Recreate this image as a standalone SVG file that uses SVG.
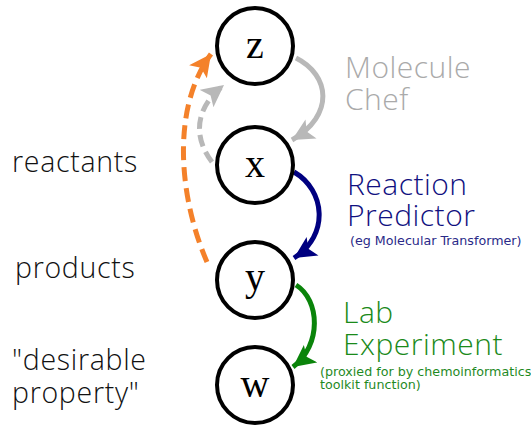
<svg xmlns="http://www.w3.org/2000/svg" width="531" height="426" viewBox="0 0 531 426">
<style>
.node{fill:#fff;stroke:#000;stroke-width:4}
.var{font-family:"Liberation Serif","DejaVu Serif",serif;font-size:40px;text-anchor:middle;fill:#000}
.lbl{font-family:"Open Sans","Lato",sans-serif;font-size:28.5px;font-weight:300;letter-spacing:0.7px}
.big{font-family:"Open Sans","Lato",sans-serif;font-size:30px;font-weight:300;letter-spacing:0.5px}
.small{font-family:"DejaVu Sans","Open Sans",sans-serif;font-size:12.7px}
.arr{fill:none;stroke-width:5}
</style>
<defs>
<marker id="hg" markerUnits="userSpaceOnUse" markerWidth="26" markerHeight="24" refX="22" refY="11" orient="auto" viewBox="0 0 26 22"><path d="M0,0 L22,11 L0,22 L5,11 Z" fill="#b8b8b8"/></marker>
<marker id="ho" markerUnits="userSpaceOnUse" markerWidth="26" markerHeight="24" refX="22" refY="11" orient="auto" viewBox="0 0 26 22"><path d="M0,0 L22,11 L0,22 L5,11 Z" fill="#f4812a"/></marker>
<marker id="hb" markerUnits="userSpaceOnUse" markerWidth="26" markerHeight="24" refX="22" refY="11" orient="auto" viewBox="0 0 26 22"><path d="M0,0 L22,11 L0,22 L5,11 Z" fill="#000080"/></marker>
<marker id="hgr" markerUnits="userSpaceOnUse" markerWidth="26" markerHeight="24" refX="22" refY="11" orient="auto" viewBox="0 0 26 22"><path d="M0,0 L22,11 L0,22 L5,11 Z" fill="#0a840a"/></marker>
</defs>
<g id="connectors">
<path class="arr" d="M296 58 C330 75,335 115,292 140" stroke="#b8b8b8" marker-end="url(#hg)"/>
<path class="arr" d="M212 162 C195 140,192 110,224 85" stroke="#b8b8b8" stroke-dasharray="12 6" marker-end="url(#hg)"/>
<path class="arr" d="M207 262 C180 200,170 110,211 54" stroke="#f4812a" stroke-dasharray="14 7" marker-end="url(#ho)"/>
<path class="arr" d="M294 172 C325 190,330 235,294 258" stroke="#000080" marker-end="url(#hb)"/>
<path class="arr" d="M296 285 C320 300,322 345,293 367" stroke="#0a840a" marker-end="url(#hgr)"/>
</g>
<g id="node-z"><circle class="node" cx="255" cy="46" r="38"/><text class="var" x="255" y="58">z</text></g>
<g id="node-x"><circle class="node" cx="255" cy="165" r="38"/><text class="var" x="255" y="177">x</text></g>
<g id="node-y"><circle class="node" cx="255" cy="280" r="38"/><text class="var" x="255" y="290">y</text></g>
<g id="node-w"><circle class="node" cx="255" cy="385" r="38"/><text class="var" x="255" y="397">w</text></g>
<g id="labels">
<text class="lbl" x="12" y="172" fill="#111">reactants</text>
<text class="lbl" x="15" y="278" fill="#111">products</text>
<text class="lbl" x="12" y="370" fill="#111">"desirable</text>
<text class="lbl" x="12" y="403" fill="#111">property"</text>
<text class="big" x="345" y="78" fill="#aaaaaa">Molecule</text>
<text class="big" x="345" y="110" fill="#aaaaaa">Chef</text>
<text class="big" x="347" y="195" fill="#101080">Reaction</text>
<text class="big" x="347" y="226" fill="#101080">Predictor</text>
<text class="small" x="350" y="245" fill="#2a2a88">(eg Molecular Transformer)</text>
<text class="big" x="343" y="323" fill="#1a8a1a">Lab</text>
<text class="big" x="343" y="355" fill="#1a8a1a">Experiment</text>
<text class="small" x="320" y="376" fill="#1f8a1f">(proxied for by chemoinformatics</text>
<text class="small" x="320" y="389" fill="#1f8a1f">toolkit function)</text>
</g>
</svg>
